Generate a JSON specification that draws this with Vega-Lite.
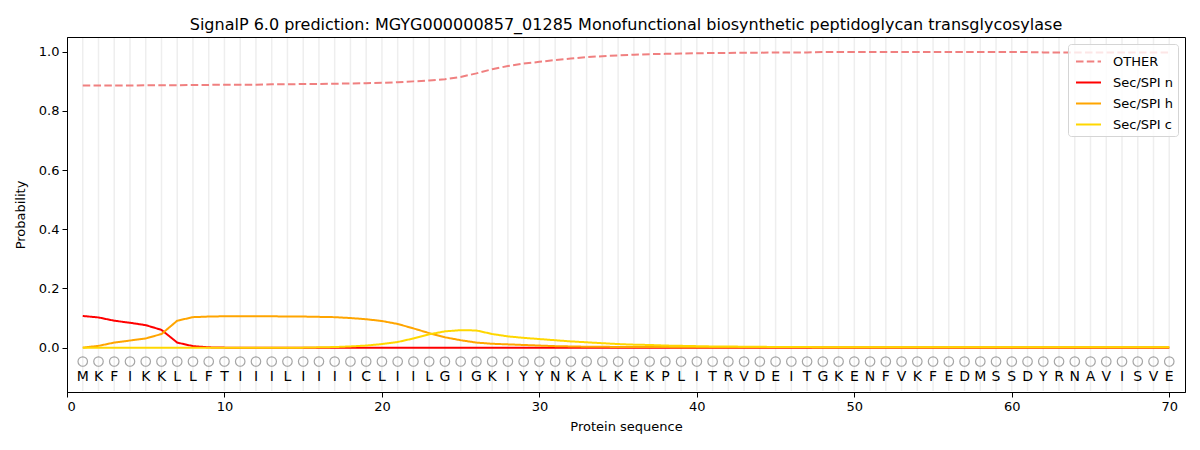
{
  "$schema": "https://vega.github.io/schema/vega-lite/v6.json",
  "width": 1118,
  "height": 355,
  "autosize": "none",
  "padding": {"left": 67, "top": 37, "right": 15, "bottom": 58},
  "title": {
    "text": "SignalP 6.0 prediction: MGYG000000857_01285 Monofunctional biosynthetic peptidoglycan transglycosylase",
    "fontSize": 16,
    "fontWeight": "normal",
    "font": "DejaVu Sans",
    "color": "black",
    "offset": 4
  },
  "data": {
    "values": [
      {"pos": 1, "aa": "M", "OTHER": 0.886, "Sec/SPI n": 0.107, "Sec/SPI h": 0.000, "Sec/SPI c": 0.000},
      {"pos": 2, "aa": "K", "OTHER": 0.886, "Sec/SPI n": 0.102, "Sec/SPI h": 0.006, "Sec/SPI c": 0.000},
      {"pos": 3, "aa": "F", "OTHER": 0.886, "Sec/SPI n": 0.091, "Sec/SPI h": 0.017, "Sec/SPI c": 0.000},
      {"pos": 4, "aa": "I", "OTHER": 0.886, "Sec/SPI n": 0.084, "Sec/SPI h": 0.024, "Sec/SPI c": 0.000},
      {"pos": 5, "aa": "K", "OTHER": 0.887, "Sec/SPI n": 0.076, "Sec/SPI h": 0.031, "Sec/SPI c": 0.000},
      {"pos": 6, "aa": "K", "OTHER": 0.887, "Sec/SPI n": 0.060, "Sec/SPI h": 0.046, "Sec/SPI c": 0.000},
      {"pos": 7, "aa": "L", "OTHER": 0.887, "Sec/SPI n": 0.017, "Sec/SPI h": 0.091, "Sec/SPI c": 0.000},
      {"pos": 8, "aa": "L", "OTHER": 0.888, "Sec/SPI n": 0.005, "Sec/SPI h": 0.103, "Sec/SPI c": 0.000},
      {"pos": 9, "aa": "F", "OTHER": 0.888, "Sec/SPI n": 0.001, "Sec/SPI h": 0.105, "Sec/SPI c": 0.000},
      {"pos": 10, "aa": "T", "OTHER": 0.889, "Sec/SPI n": 0.000, "Sec/SPI h": 0.106, "Sec/SPI c": 0.000},
      {"pos": 11, "aa": "I", "OTHER": 0.889, "Sec/SPI n": 0.000, "Sec/SPI h": 0.106, "Sec/SPI c": 0.000},
      {"pos": 12, "aa": "I", "OTHER": 0.889, "Sec/SPI n": 0.000, "Sec/SPI h": 0.106, "Sec/SPI c": 0.000},
      {"pos": 13, "aa": "I", "OTHER": 0.890, "Sec/SPI n": 0.000, "Sec/SPI h": 0.106, "Sec/SPI c": 0.000},
      {"pos": 14, "aa": "L", "OTHER": 0.890, "Sec/SPI n": 0.000, "Sec/SPI h": 0.105, "Sec/SPI c": 0.000},
      {"pos": 15, "aa": "I", "OTHER": 0.891, "Sec/SPI n": 0.000, "Sec/SPI h": 0.105, "Sec/SPI c": 0.000},
      {"pos": 16, "aa": "I", "OTHER": 0.891, "Sec/SPI n": 0.000, "Sec/SPI h": 0.104, "Sec/SPI c": 0.001},
      {"pos": 17, "aa": "I", "OTHER": 0.892, "Sec/SPI n": 0.000, "Sec/SPI h": 0.103, "Sec/SPI c": 0.002},
      {"pos": 18, "aa": "I", "OTHER": 0.893, "Sec/SPI n": 0.000, "Sec/SPI h": 0.100, "Sec/SPI c": 0.004},
      {"pos": 19, "aa": "C", "OTHER": 0.894, "Sec/SPI n": 0.000, "Sec/SPI h": 0.096, "Sec/SPI c": 0.007},
      {"pos": 20, "aa": "L", "OTHER": 0.895, "Sec/SPI n": 0.000, "Sec/SPI h": 0.090, "Sec/SPI c": 0.012},
      {"pos": 21, "aa": "I", "OTHER": 0.897, "Sec/SPI n": 0.000, "Sec/SPI h": 0.080, "Sec/SPI c": 0.019},
      {"pos": 22, "aa": "I", "OTHER": 0.900, "Sec/SPI n": 0.000, "Sec/SPI h": 0.065, "Sec/SPI c": 0.031},
      {"pos": 23, "aa": "L", "OTHER": 0.903, "Sec/SPI n": 0.000, "Sec/SPI h": 0.049, "Sec/SPI c": 0.045},
      {"pos": 24, "aa": "G", "OTHER": 0.907, "Sec/SPI n": 0.000, "Sec/SPI h": 0.035, "Sec/SPI c": 0.055},
      {"pos": 25, "aa": "I", "OTHER": 0.915, "Sec/SPI n": 0.000, "Sec/SPI h": 0.025, "Sec/SPI c": 0.059},
      {"pos": 26, "aa": "G", "OTHER": 0.927, "Sec/SPI n": 0.000, "Sec/SPI h": 0.017, "Sec/SPI c": 0.058},
      {"pos": 27, "aa": "K", "OTHER": 0.941, "Sec/SPI n": 0.000, "Sec/SPI h": 0.013, "Sec/SPI c": 0.046},
      {"pos": 28, "aa": "I", "OTHER": 0.952, "Sec/SPI n": 0.000, "Sec/SPI h": 0.011, "Sec/SPI c": 0.038},
      {"pos": 29, "aa": "Y", "OTHER": 0.960, "Sec/SPI n": 0.000, "Sec/SPI h": 0.009, "Sec/SPI c": 0.033},
      {"pos": 30, "aa": "Y", "OTHER": 0.966, "Sec/SPI n": 0.000, "Sec/SPI h": 0.007, "Sec/SPI c": 0.029},
      {"pos": 31, "aa": "N", "OTHER": 0.972, "Sec/SPI n": 0.000, "Sec/SPI h": 0.005, "Sec/SPI c": 0.025},
      {"pos": 32, "aa": "K", "OTHER": 0.977, "Sec/SPI n": 0.000, "Sec/SPI h": 0.004, "Sec/SPI c": 0.021},
      {"pos": 33, "aa": "A", "OTHER": 0.982, "Sec/SPI n": 0.000, "Sec/SPI h": 0.003, "Sec/SPI c": 0.018},
      {"pos": 34, "aa": "L", "OTHER": 0.985, "Sec/SPI n": 0.000, "Sec/SPI h": 0.003, "Sec/SPI c": 0.015},
      {"pos": 35, "aa": "K", "OTHER": 0.988, "Sec/SPI n": 0.000, "Sec/SPI h": 0.002, "Sec/SPI c": 0.012},
      {"pos": 36, "aa": "E", "OTHER": 0.990, "Sec/SPI n": 0.000, "Sec/SPI h": 0.002, "Sec/SPI c": 0.010},
      {"pos": 37, "aa": "K", "OTHER": 0.992, "Sec/SPI n": 0.000, "Sec/SPI h": 0.002, "Sec/SPI c": 0.009},
      {"pos": 38, "aa": "P", "OTHER": 0.993, "Sec/SPI n": 0.000, "Sec/SPI h": 0.002, "Sec/SPI c": 0.007},
      {"pos": 39, "aa": "L", "OTHER": 0.994, "Sec/SPI n": 0.000, "Sec/SPI h": 0.001, "Sec/SPI c": 0.006},
      {"pos": 40, "aa": "I", "OTHER": 0.995, "Sec/SPI n": 0.000, "Sec/SPI h": 0.001, "Sec/SPI c": 0.005},
      {"pos": 41, "aa": "T", "OTHER": 0.996, "Sec/SPI n": 0.000, "Sec/SPI h": 0.001, "Sec/SPI c": 0.004},
      {"pos": 42, "aa": "R", "OTHER": 0.996, "Sec/SPI n": 0.000, "Sec/SPI h": 0.001, "Sec/SPI c": 0.004},
      {"pos": 43, "aa": "V", "OTHER": 0.997, "Sec/SPI n": 0.000, "Sec/SPI h": 0.001, "Sec/SPI c": 0.003},
      {"pos": 44, "aa": "D", "OTHER": 0.997, "Sec/SPI n": 0.000, "Sec/SPI h": 0.001, "Sec/SPI c": 0.003},
      {"pos": 45, "aa": "E", "OTHER": 0.998, "Sec/SPI n": 0.000, "Sec/SPI h": 0.001, "Sec/SPI c": 0.002},
      {"pos": 46, "aa": "I", "OTHER": 0.998, "Sec/SPI n": 0.000, "Sec/SPI h": 0.001, "Sec/SPI c": 0.002},
      {"pos": 47, "aa": "T", "OTHER": 0.998, "Sec/SPI n": 0.000, "Sec/SPI h": 0.001, "Sec/SPI c": 0.002},
      {"pos": 48, "aa": "G", "OTHER": 0.999, "Sec/SPI n": 0.000, "Sec/SPI h": 0.001, "Sec/SPI c": 0.001},
      {"pos": 49, "aa": "K", "OTHER": 0.999, "Sec/SPI n": 0.000, "Sec/SPI h": 0.001, "Sec/SPI c": 0.001},
      {"pos": 50, "aa": "E", "OTHER": 0.999, "Sec/SPI n": 0.000, "Sec/SPI h": 0.001, "Sec/SPI c": 0.001},
      {"pos": 51, "aa": "N", "OTHER": 0.999, "Sec/SPI n": 0.000, "Sec/SPI h": 0.001, "Sec/SPI c": 0.001},
      {"pos": 52, "aa": "F", "OTHER": 0.999, "Sec/SPI n": 0.000, "Sec/SPI h": 0.001, "Sec/SPI c": 0.001},
      {"pos": 53, "aa": "V", "OTHER": 0.999, "Sec/SPI n": 0.000, "Sec/SPI h": 0.001, "Sec/SPI c": 0.001},
      {"pos": 54, "aa": "K", "OTHER": 0.999, "Sec/SPI n": 0.000, "Sec/SPI h": 0.001, "Sec/SPI c": 0.001},
      {"pos": 55, "aa": "F", "OTHER": 0.999, "Sec/SPI n": 0.000, "Sec/SPI h": 0.001, "Sec/SPI c": 0.001},
      {"pos": 56, "aa": "E", "OTHER": 0.999, "Sec/SPI n": 0.000, "Sec/SPI h": 0.001, "Sec/SPI c": 0.001},
      {"pos": 57, "aa": "D", "OTHER": 0.999, "Sec/SPI n": 0.000, "Sec/SPI h": 0.001, "Sec/SPI c": 0.001},
      {"pos": 58, "aa": "M", "OTHER": 0.999, "Sec/SPI n": 0.000, "Sec/SPI h": 0.001, "Sec/SPI c": 0.001},
      {"pos": 59, "aa": "S", "OTHER": 0.999, "Sec/SPI n": 0.000, "Sec/SPI h": 0.001, "Sec/SPI c": 0.001},
      {"pos": 60, "aa": "S", "OTHER": 0.999, "Sec/SPI n": 0.000, "Sec/SPI h": 0.001, "Sec/SPI c": 0.001},
      {"pos": 61, "aa": "D", "OTHER": 0.999, "Sec/SPI n": 0.000, "Sec/SPI h": 0.001, "Sec/SPI c": 0.001},
      {"pos": 62, "aa": "Y", "OTHER": 0.998, "Sec/SPI n": 0.000, "Sec/SPI h": 0.001, "Sec/SPI c": 0.001},
      {"pos": 63, "aa": "R", "OTHER": 0.998, "Sec/SPI n": 0.000, "Sec/SPI h": 0.001, "Sec/SPI c": 0.001},
      {"pos": 64, "aa": "N", "OTHER": 0.998, "Sec/SPI n": 0.000, "Sec/SPI h": 0.001, "Sec/SPI c": 0.001},
      {"pos": 65, "aa": "A", "OTHER": 0.998, "Sec/SPI n": 0.000, "Sec/SPI h": 0.001, "Sec/SPI c": 0.001},
      {"pos": 66, "aa": "V", "OTHER": 0.998, "Sec/SPI n": 0.000, "Sec/SPI h": 0.001, "Sec/SPI c": 0.001},
      {"pos": 67, "aa": "I", "OTHER": 0.998, "Sec/SPI n": 0.000, "Sec/SPI h": 0.001, "Sec/SPI c": 0.001},
      {"pos": 68, "aa": "S", "OTHER": 0.998, "Sec/SPI n": 0.000, "Sec/SPI h": 0.001, "Sec/SPI c": 0.001},
      {"pos": 69, "aa": "V", "OTHER": 0.998, "Sec/SPI n": 0.000, "Sec/SPI h": 0.001, "Sec/SPI c": 0.001},
      {"pos": 70, "aa": "E", "OTHER": 0.998, "Sec/SPI n": 0.000, "Sec/SPI h": 0.001, "Sec/SPI c": 0.001}
    ]
  },
  "encoding": {
    "x": {
      "field": "pos",
      "type": "quantitative",
      "title": "Protein sequence",
      "scale": {"domain": [0, 71], "nice": false, "zero": false},
      "axis": {"values": [0, 10, 20, 30, 40, 50, 60, 70], "format": "d", "grid": false}
    }
  },
  "layer": [
    {
      "mark": {"type": "rule", "color": "#eeeeee", "strokeWidth": 1.5},
      "encoding": {
        "y": {"datum": 1.047, "type": "quantitative"},
        "y2": {"datum": -0.147}
      }
    },
    {
      "transform": [
        {"fold": ["OTHER", "Sec/SPI n", "Sec/SPI h", "Sec/SPI c"], "as": ["series", "prob"]}
      ],
      "mark": {"type": "line", "strokeWidth": 2},
      "encoding": {
        "y": {
          "field": "prob",
          "type": "quantitative",
          "title": "Probability",
          "scale": {"domain": [-0.15, 1.05], "nice": false, "zero": false},
          "axis": {"values": [0, 0.2, 0.4, 0.6, 0.8, 1.0], "format": ".1f", "grid": false}
        },
        "color": {
          "field": "series",
          "type": "nominal",
          "title": null,
          "scale": {
            "domain": ["OTHER", "Sec/SPI n", "Sec/SPI h", "Sec/SPI c"],
            "range": ["#f08080", "#ff0000", "#ffa500", "#ffd700"]
          }
        },
        "strokeDash": {
          "field": "series",
          "type": "nominal",
          "title": null,
          "scale": {
            "domain": ["OTHER", "Sec/SPI n", "Sec/SPI h", "Sec/SPI c"],
            "range": [[7.5, 3.3], [1, 0], [1, 0], [1, 0]]
          }
        }
      }
    },
    {
      "mark": {"type": "point", "shape": "circle", "filled": false, "color": "#808080", "strokeWidth": 1.2, "size": 90},
      "encoding": {
        "y": {"datum": -0.047, "type": "quantitative"}
      }
    },
    {
      "mark": {"type": "text", "font": "DejaVu Sans", "fontSize": 14, "color": "black", "baseline": "middle"},
      "encoding": {
        "y": {"datum": -0.098, "type": "quantitative"},
        "text": {"field": "aa", "type": "nominal"}
      }
    }
  ],
  "config": {
    "view": {"stroke": "black", "strokeWidth": 1},
    "font": "DejaVu Sans",
    "axis": {
      "labelFont": "DejaVu Sans",
      "labelFontSize": 13,
      "labelColor": "black",
      "titleFont": "DejaVu Sans",
      "titleFontSize": 13,
      "titleFontWeight": "normal",
      "titleColor": "black",
      "domainColor": "black",
      "tickColor": "black",
      "tickSize": 5,
      "labelPadding": 3
    },
    "axisX": {"titlePadding": 7},
    "axisY": {"titlePadding": 11},
    "legend": {
      "orient": "top-right",
      "offset": 7,
      "fillColor": "rgba(255,255,255,0.8)",
      "strokeColor": "#d5d5d5",
      "cornerRadius": 3,
      "padding": 4,
      "labelFont": "DejaVu Sans",
      "labelFontSize": 13,
      "labelColor": "black",
      "symbolType": "stroke",
      "symbolStrokeWidth": 2,
      "symbolSize": 625,
      "symbolOffset": 3,
      "rowPadding": 0,
      "labelOffset": 11
    }
  }
}
